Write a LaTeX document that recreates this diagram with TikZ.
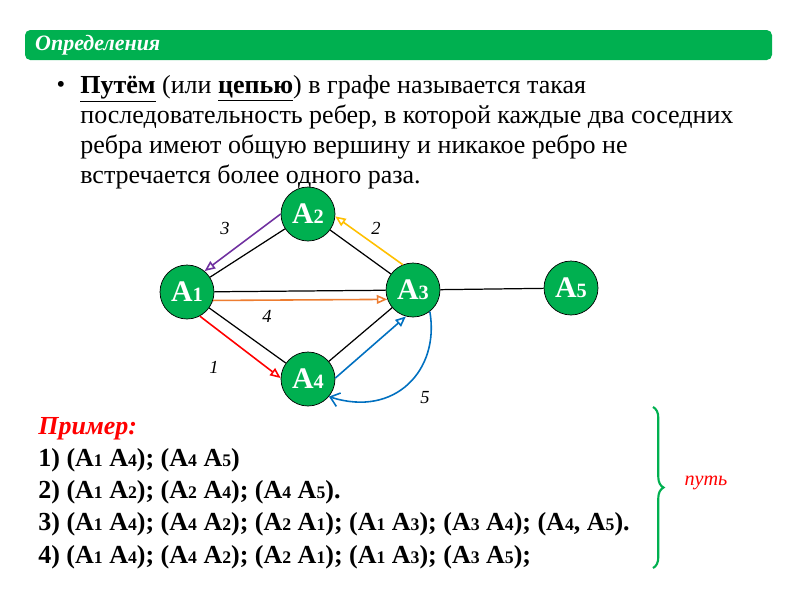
\documentclass[tikz,border=0pt]{standalone}
\usepackage{fontspec}
\setmainfont{Liberation Serif}
\usepackage{xcolor}
\usetikzlibrary{arrows.meta,decorations.pathreplacing}
\definecolor{slidegreen}{RGB}{0,176,80}
\definecolor{pathred}{RGB}{255,0,0}
\definecolor{pathpurple}{RGB}{112,48,160}
\definecolor{pathyellow}{RGB}{255,192,0}
\definecolor{pathorange}{RGB}{237,125,49}
\definecolor{pathblue}{RGB}{0,112,192}
\newcommand{\ix}[1]{{\fontsize{0.68em}{1em}\selectfont #1}}
\tikzstyle{vertex} = [circle, draw=black, fill=slidegreen, minimum size=1.08cm, inner sep=0pt, text=white, font=\fontsize{17}{19}\selectfont\bfseries]
\tikzstyle{step arrow} = [line width=0.9pt, -{Triangle[open,length=6pt,width=5pt]}]
\tikzstyle{stepnum} = [font=\fontsize{10.5}{12}\selectfont\itshape]

\begin{document}
\begin{tikzpicture}[x=0.02cm, y=-0.02cm]
\useasboundingbox (0,0) rectangle (800,600);
\fill[white] (0,0) rectangle (800,600);

% header bar
\fill[slidegreen, rounded corners=3pt] (25,30) rectangle (772,60);
\node[anchor=west, text=white, font=\fontsize{12.5}{14}\selectfont\bfseries\itshape] (head) at (29,45) {Определения};

% definition
\node (bullet) at (61,87) {\fontsize{14}{17}\selectfont\textbullet};
\node[anchor=north west, inner sep=0pt, align=left, font=\fontsize{14.8}{17}\selectfont] (def) at (80,75)
  {\textbf{\underline{Путём}} (или \textbf{\underline{цепью}}) в графе называется такая\\
   последовательность ребер, в которой каждые два соседних\\
   ребра имеют общую вершину и никакое ребро не\\
   встречается более одного раза.};

% graph
\node[vertex] (A2) at (308,214) {A\ix{2}};
\node[vertex] (A1) at (187,292) {A\ix{1}};
\node[vertex] (A3) at (413,290) {A\ix{3}};
\node[vertex] (A4) at (308,379) {A\ix{4}};
\node[vertex] (A5) at (571,288) {A\ix{5}};

\foreach \from/\to in {A1/A2,A1/A3,A1/A4,A2/A3,A4/A3,A3/A5}
{
	\draw[line width=0.7pt] (\from) -- (\to);
}

\draw[step arrow, draw=pathred] (A1.-62) -- (A4.178);
\draw[step arrow, draw=pathyellow] (A3.112) -- (A2.-5);
\draw[step arrow, draw=pathpurple] (A2.180) -- (A1.50);
\draw[step arrow, draw=pathorange] (A1.-18) -- (A3.200);
\draw[step arrow, draw=pathblue] (A4.2) -- (A3.-105);
\draw[line width=0.9pt, draw=pathblue, -{Straight Barb[length=5pt,width=8pt]}] (A3.-52) .. controls (440,370) and (395,418) .. (A4.-40);

\node[stepnum] (n1) at (214,367) {1};
\node[stepnum] (n2) at (376,228) {2};
\node[stepnum] (n3) at (225,228) {3};
\node[stepnum] (n4) at (267,316) {4};
\node[stepnum] (n5) at (425,398) {5};

% examples
\node[anchor=north west, inner sep=0pt, align=left, font=\fontsize{14.8}{18.3}\selectfont\bfseries] (ex) at (38,417)
  {\textcolor{red}{\itshape Пример:}\\
   1) (A\ix{1} A\ix{4}); (A\ix{4} A\ix{5})\\
   2) (A\ix{1} A\ix{2}); (A\ix{2} A\ix{4}); (A\ix{4} A\ix{5}).\\
   3) (A\ix{1} A\ix{4}); (A\ix{4} A\ix{2}); (A\ix{2} A\ix{1}); (A\ix{1} A\ix{3}); (A\ix{3} A\ix{4}); (A\ix{4}, A\ix{5}).\\
   4) (A\ix{1} A\ix{4}); (A\ix{4} A\ix{2}); (A\ix{2} A\ix{1}); (A\ix{1} A\ix{3}); (A\ix{3} A\ix{5});};

\coordinate (btop) at (653,407);
\coordinate (bbot) at (653,568);
\draw[draw=slidegreen, line width=1.2pt, decorate, decoration={brace, amplitude=6pt}] (btop) -- (bbot);
\node[text=red, font=\fontsize{11.5}{13}\selectfont\itshape] (put) at (706,483) {путь};
\end{tikzpicture}
\end{document}
